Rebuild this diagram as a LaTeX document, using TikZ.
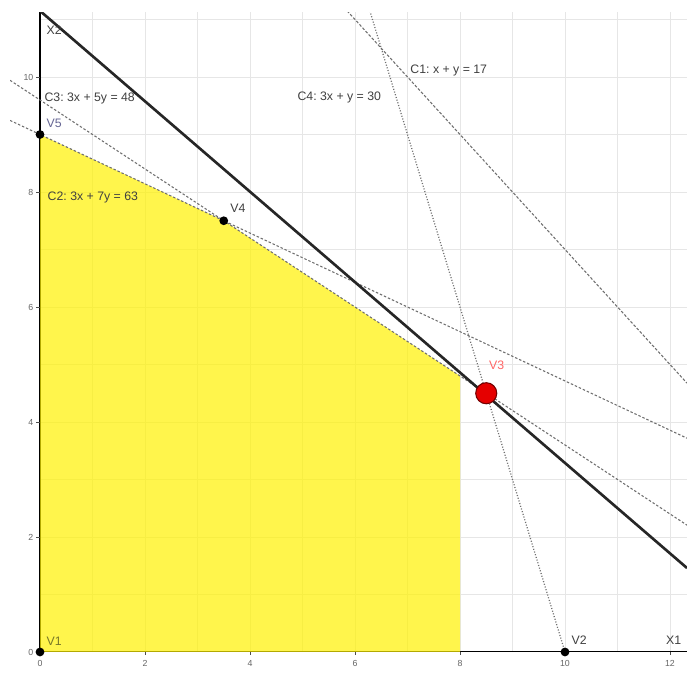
\documentclass[tikz,border=0pt]{standalone}
\usepackage{fontspec}
\setmainfont{Liberation Sans}
\frenchspacing
\definecolor{gridc}{RGB}{230,230,230}
\definecolor{linec}{RGB}{110,110,110}
\definecolor{olivec}{RGB}{120,120,40}
\tikzset{
  gridline/.style={draw=gridc, line width=0.5pt},
  axisline/.style={draw=black, line width=1.3pt},
  objline/.style={draw=black!85, line width=1.5pt},
  cone/.style={draw=linec, line width=0.6pt, dash pattern=on 1.6pt off 1pt},
  ctwo/.style={draw=linec, line width=0.6pt, dash pattern=on 1.4pt off 1.1pt},
  cthree/.style={draw=linec, line width=0.6pt, dash pattern=on 1.4pt off 1.1pt},
  cfour/.style={draw=linec, line width=0.7pt, dash pattern=on 0.6pt off 1pt},
  pt/.style={circle, fill=black, inner sep=0pt, minimum size=5pt},
  optpt/.style={circle, fill=red!90!black, draw=red!45!black, line width=0.6pt, inner sep=0pt, minimum size=12pt},
  lbl/.style={font=\fontsize{7}{8}\selectfont, text=black!75, inner sep=0pt},
  ticklbl/.style={font=\fontsize{5}{6}\selectfont, text=black!60, inner sep=0pt},
}
\begin{document}
\begin{tikzpicture}[x=1.05cm, y=1.15cm]
\useasboundingbox[fill=white] (-0.762,-0.383) rectangle (12.324,11.339);
\begin{scope}
\clip (-0.57,0) rectangle (12.324,11.13);
% grid
\foreach \i in {1,...,12} \draw[gridline] (\i,0) -- (\i,11.15);
\foreach \j in {1,...,11} \draw[gridline] (0,\j) -- (12.324,\j);
% axes
\coordinate (O) at (0,0);
\coordinate (Ytop) at (0,11.15);
\coordinate (Xend) at (12.324,0);
\draw[axisline] (O) -- (Ytop);
\draw[axisline] (O) -- (Xend);
% feasible (partial) region
\coordinate (Y1) at (8,0);
\coordinate (Y2) at (8,4.8);
\fill[yellow, fill opacity=0.7] (0,0) -- (Y1) -- (Y2) -- (3.5,7.5) -- (0,9) -- cycle;
% constraint lines
\coordinate (c1a) at (5.85,11.15);
\coordinate (c1b) at (12.324,4.676);
\draw[cone] (c1a) -- (c1b);
\coordinate (c2a) at (-0.57,9.244);
\coordinate (c2b) at (12.324,3.718);
\draw[ctwo] (c2a) -- (c2b);
\coordinate (c3a) at (-0.57,9.942);
\coordinate (c3b) at (12.324,2.206);
\draw[cthree] (c3a) -- (c3b);
\coordinate (c4a) at (6.283,11.15);
\coordinate (c4b) at (10,0);
\draw[cfour] (c4a) -- (c4b);
% objective line
\coordinate (obja) at (0,11.15);
\coordinate (objb) at (12.324,1.46);
\draw[objline] (obja) -- (objb);
\end{scope}
% ticks
\foreach \i in {2,4,...,12} {
  \draw[black!70, line width=0.5pt] (\i,0) -- (\i,-0.06);
  \node[ticklbl] (tx\i) at (\i,-0.2) {\i};
}
\node[ticklbl] (tx0) at (0,-0.2) {0};
\foreach \j in {2,4,...,10} {
  \draw[black!70, line width=0.5pt] (0,\j) -- (-0.07,\j);
  \node[ticklbl, anchor=east] (ty\j) at (-0.12,\j) {\j};
}
\node[ticklbl, anchor=east] (ty0) at (-0.12,0) {0};
% vertices
\node[pt] (V1) at (0,0) {};
\node[pt] (V2) at (10,0) {};
\node[pt] (V4) at (3.5,7.5) {};
\node[pt] (V5) at (0,9) {};
\node[optpt] (V3) at (8.5,4.5) {};
% labels
\node[lbl, text=olivec, anchor=west] (lV1) at (0.12,0.18) {V1};
\node[lbl, anchor=west] (lV2) at (10.12,0.2) {V2};
\node[lbl, text=red!60, anchor=west] (lV3) at (8.55,4.98) {V3};
\node[lbl, anchor=west] (lV4) at (3.62,7.72) {V4};
\node[lbl, text=blue!30!black!60, anchor=west] (lV5) at (0.12,9.2) {V5};
\node[lbl, anchor=west] (lX1) at (11.92,0.2) {X1};
\node[lbl, anchor=west] (lX2) at (0.12,10.82) {X2};
\node[lbl, anchor=west] (lC1) at (7.05,10.12) {C1: x + y = 17};
\node[lbl, anchor=west] (lC4) at (4.9,9.65) {C4: 3x + y = 30};
\node[lbl, anchor=west] (lC3) at (0.08,9.63) {C3: 3x + 5y = 48};
\node[lbl, anchor=west] (lC2) at (0.14,7.9) {C2: 3x + 7y = 63};
\end{tikzpicture}
\end{document}
